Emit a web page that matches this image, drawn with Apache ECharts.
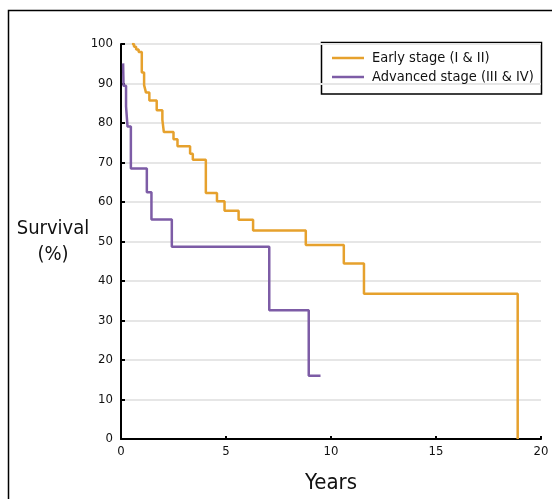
<!DOCTYPE html>
<html>
<head>
<meta charset="utf-8">
<title>Survival</title>
<script src="https://cdn.jsdelivr.net/npm/echarts@6/dist/echarts.min.js"></script>
<style>
  html, body { margin: 0; padding: 0; background: #fff; }
  #chart { width: 552px; height: 499px; }
</style>
</head>
<body>
<div id="chart"></div>
<script>
// Kaplan-Meier style steps: [years, survival % after the drop]
const earlyName = "Early stage (I & II)";
const earlyYears = [0.52, 0.62, 0.72, 0.84, 0.99, 1.10, 1.19, 1.35, 1.70, 1.97, 2.04, 2.50, 2.69, 3.29, 3.42, 4.04, 4.57, 4.93, 5.60, 6.29, 8.80, 10.61, 11.57, 18.89];
const earlySurvival = [100, 99.3, 98.6, 98.0, 92.8, 89.6, 87.7, 85.7, 83.2, 80.8, 77.7, 75.9, 74.1, 72.2, 70.7, 62.3, 60.2, 57.8, 55.5, 52.8, 49.1, 44.4, 36.8, 0];

const advancedName = "Advanced stage (III & IV)";
const advancedYears = [0.10, 0.12, 0.24, 0.31, 0.47, 1.23, 1.45, 2.42, 7.06, 8.94, 9.50];
const advancedSurvival = [95.1, 89.4, 84.2, 79.1, 68.5, 62.5, 55.6, 48.7, 32.6, 16.0, 16.0];

const yTicks = [0, 10, 20, 30, 40, 50, 60, 70, 80, 90, 100];
const xTicks = [0, 5, 10, 15, 20];

const font = "'Liberation Sans Narrow', 'DejaVu Sans Condensed', 'Roboto Condensed', sans-serif";

function pairs(xs, ys) {
  return xs.map((x, i) => [x, ys[i]]);
}

const chart = echarts.init(document.getElementById("chart"));

chart.setOption({
  animation: false,
  textStyle: { fontFamily: font },
  grid: {
    left: 121,
    right: 11,
    top: 44,
    bottom: 59
  },
  legend: {
    orient: "vertical",
    left: 332,
    top: 50,
    padding: 0,
    itemGap: 3,
    itemWidth: 32,
    itemHeight: 2.5,
    icon: "rect",
    textStyle: {
      fontSize: 14.5,
      lineHeight: 16,
      color: "#111",
      padding: [0, 0, 0, 3]
    },
    data: [earlyName, advancedName]
  },
  xAxis: {
    type: "value",
    min: xTicks[0],
    max: xTicks[xTicks.length - 1],
    interval: 5,
    name: "Years",
    nameLocation: "middle",
    nameGap: 33,
    nameTextStyle: { fontSize: 22, color: "#111" },
    splitLine: { show: false },
    axisLine: { lineStyle: { color: "#000", width: 2 } },
    axisTick: { inside: true, length: 3, lineStyle: { color: "#000", width: 2 } },
    axisLabel: { fontSize: 13, color: "#111", margin: 6 }
  },
  yAxis: {
    type: "value",
    min: yTicks[0],
    max: yTicks[yTicks.length - 1],
    interval: 10,
    splitLine: { show: true, lineStyle: { color: "#e6e6e6", width: 2 } },
    axisLine: { show: true, lineStyle: { color: "#000", width: 2 } },
    axisTick: { show: true, inside: true, length: 4, lineStyle: { color: "#000", width: 2 } },
    axisLabel: { fontSize: 13, color: "#111", margin: 8 }
  },
  graphic: [
    // outer frame, only left and top edges visible
    {
      type: "polyline",
      shape: { points: [[8.5, 499], [8.5, 10.5], [552, 10.5]] },
      style: { stroke: "#000", lineWidth: 1.5, fill: null }
    },
    // legend box
    {
      type: "rect",
      shape: { x: 321.5, y: 42.5, width: 220, height: 51.5 },
      style: { stroke: "#000", lineWidth: 1.5, fill: null }
    },
    {
      type: "text",
      x: 53,
      y: 216,
      style: {
        text: "Survival\n(%)",
        align: "center",
        fontSize: 20,
        lineHeight: 26,
        fontFamily: font,
        fill: "#111"
      }
    }
  ],
  series: [
    {
      name: earlyName,
      type: "line",
      step: "end",
      showSymbol: false,
      symbol: "none",
      lineStyle: { color: "#e6a12d", width: 2.5 },
      itemStyle: { color: "#e6a12d" },
      data: pairs(earlyYears, earlySurvival)
    },
    {
      name: advancedName,
      type: "line",
      step: "end",
      showSymbol: false,
      symbol: "none",
      lineStyle: { color: "#7d5ca6", width: 2.5 },
      itemStyle: { color: "#7d5ca6" },
      data: pairs(advancedYears, advancedSurvival)
    }
  ]
});
</script>
</body>
</html>
